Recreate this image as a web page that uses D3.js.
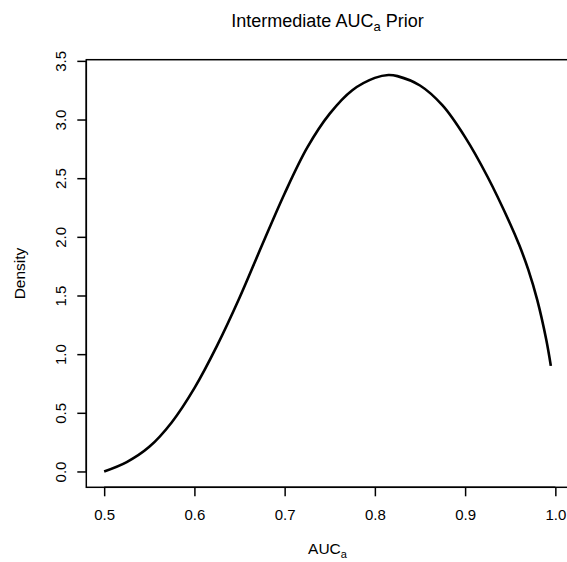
<!DOCTYPE html>
<html>
<head>
<meta charset="utf-8">
<script src="https://cdn.jsdelivr.net/npm/d3@7"></script>
<style>
  body { margin: 0; background: #fff; }
  text { font-family: "Liberation Sans", Arial, Helvetica, sans-serif; fill: #000; }
</style>
</head>
<body>
<script>
const width = 567;
const height = 562;

// density curve
const auc = [0.500, 0.525, 0.550, 0.575, 0.600, 0.625, 0.650, 0.675, 0.700, 0.725,
             0.750, 0.775, 0.800, 0.815, 0.825, 0.850, 0.875, 0.900, 0.925, 0.950,
             0.960, 0.970, 0.980, 0.990, 0.995];
const density = [0.00, 0.08, 0.21, 0.42, 0.71, 1.07, 1.48, 1.93, 2.37, 2.76,
                 3.05, 3.25, 3.355, 3.38, 3.37, 3.29, 3.12, 2.85, 2.51, 2.11,
                 1.93, 1.72, 1.46, 1.12, 0.90];
const xTicks = [0.5, 0.6, 0.7, 0.8, 0.9, 1.0];
const yTicks = [0, 0.5, 1, 1.5, 2, 2.5, 3, 3.5];

// plot region (R style, 4% padding on each side)
const plotL = 86.3, plotR = 568.7, plotT = 59.7, plotB = 487.3;

const x = d3.scaleLinear().domain([0.4802, 1.0148]).range([plotL, plotR]);
const y = d3.scaleLinear().domain([-0.135, 3.51]).range([plotB, plotT]);

const svg = d3.select("body")
    .append("svg")
    .attr("width", width)
    .attr("height", height);

// box
svg.append("rect")
    .attr("x", plotL).attr("y", plotT)
    .attr("width", plotR - plotL).attr("height", plotB - plotT)
    .attr("fill", "none")
    .attr("stroke", "#000")
    .attr("stroke-width", 1.5);

// x axis
const xAxis = d3.axisBottom(x)
    .tickValues(xTicks)
    .tickSize(9)
    .tickPadding(13)
    .tickFormat(d3.format(".1f"));
const gx = svg.append("g")
    .attr("transform", "translate(0," + plotB + ")")
    .call(xAxis);
gx.select(".domain")
    .attr("d", "M" + x(0.5) + ",0H" + x(1.0))
    .attr("stroke-width", 1.5);
gx.selectAll(".tick line").attr("stroke-width", 1.5);
gx.selectAll(".tick text").attr("font-size", 15).attr("font-family", "Liberation Sans, Arial, sans-serif");

// y axis, labels rotated like R's las=0
const yAxis = d3.axisLeft(y)
    .tickValues(yTicks)
    .tickSize(9)
    .tickFormat(d3.format(".1f"));
const gy = svg.append("g")
    .attr("transform", "translate(" + plotL + ",0)")
    .call(yAxis);
gy.select(".domain")
    .attr("d", "M0," + y(0) + "V" + y(3.5))
    .attr("stroke-width", 1.5);
gy.selectAll(".tick line").attr("stroke-width", 1.5);
gy.selectAll(".tick text")
    .attr("x", null).attr("dy", null)
    .attr("transform", "translate(-20,0) rotate(-90)")
    .attr("text-anchor", "middle")
    .attr("font-size", 15)
    .attr("font-family", "Liberation Sans, Arial, sans-serif");

// curve
const line = d3.line()
    .x((d, i) => x(auc[i]))
    .y(d => y(d))
    .curve(d3.curveCatmullRom.alpha(0.5));
svg.append("path")
    .datum(density)
    .attr("d", line)
    .attr("fill", "none")
    .attr("stroke", "#000")
    .attr("stroke-width", 2.6);

// title
const cx = (plotL + plotR) / 2;
const title = svg.append("text")
    .attr("x", cx).attr("y", 27)
    .attr("text-anchor", "middle")
    .attr("font-size", 18);
title.append("tspan").text("Intermediate AUC");
title.append("tspan").attr("font-size", 13).attr("dy", 4).text("a");
title.append("tspan").attr("dy", -4).text(" Prior");

// x label
const xl = svg.append("text")
    .attr("x", cx).attr("y", 554)
    .attr("text-anchor", "middle")
    .attr("font-size", 15.5);
xl.append("tspan").text("AUC");
xl.append("tspan").attr("font-size", 11).attr("dy", 4).text("a");

// y label
svg.append("text")
    .attr("transform", "translate(25," + ((plotT + plotB) / 2) + ") rotate(-90)")
    .attr("text-anchor", "middle")
    .attr("font-size", 15.5)
    .text("Density");
</script>
</body>
</html>
